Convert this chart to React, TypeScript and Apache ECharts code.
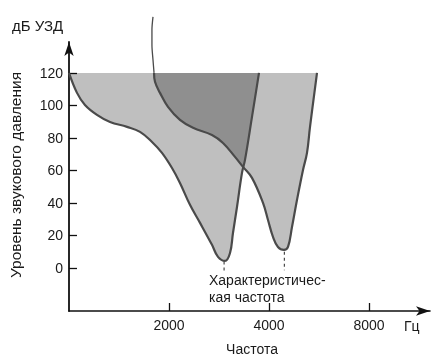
import React, { useEffect, useRef } from "react";
import * as echarts from "echarts";

// Frequency axis (Hz, drawn on a log2 scale starting at 1000 Hz)
const BASE_FREQ = 1000;
const xTickFreqs = [2000, 4000, 8000];
const yTickValues = [0, 20, 40, 60, 80, 100, 120];

// Tuning curve with characteristic frequency ~2.9 kHz
const curveAFreq = [1000, 1057, 1117, 1214, 1329, 1495, 1636, 1778, 1905, 2042, 2158, 2313, 2480, 2694, 2809, 2948, 3053, 3116, 3204, 3317, 3387, 3555, 3732];
const curveADb = [120, 107.7, 100.3, 94.2, 89.8, 86.8, 83.7, 77.5, 70.8, 61.5, 52.3, 38.8, 27.7, 14.2, 6.8, 4.3, 9.2, 21.5, 37.5, 58.5, 66.5, 92.9, 120];

// Tuning curve with characteristic frequency ~4.4 kHz
const curveBTopFreq = [1790, 1777, 1777, 1790, 1803];
const curveBTopDb = [154.5, 146.5, 137.2, 128, 120];
const curveBFreq = [1803, 1815, 1879, 1986, 2158, 2362, 2694, 2908, 3160, 3340, 3555, 3837, 3972, 4112, 4257, 4438, 4563, 4691, 4856, 5063, 5205, 5315, 5579];
const curveBDb = [120, 114.5, 107.7, 99.1, 91.1, 86.2, 81.8, 76.9, 68.3, 62.2, 55.4, 40, 29.5, 19.1, 12.9, 11.1, 12.9, 25.2, 41.8, 60.3, 70.8, 86.8, 120];

// Characteristic-frequency markers (dashed drops below each minimum)
const markerFreqs = [2930, 4450];
const markerTopDb = [4, 10];
const markerBottomDb = [-3, -1.5];

const toX = (f: number) => Math.log2(f / BASE_FREQ);
const pairs = (fs: number[], ds: number[]) => fs.map((f, i) => [toX(f), ds[i]]);

const FONT = 'Arial, "Liberation Sans", sans-serif';
const INK = "#1a1a1a";
const CURVE = "#4a4a4a";

export default function App() {
  const ref = useRef<HTMLDivElement>(null);
  useEffect(() => {
    if (!ref.current) return;
    const chart = echarts.init(ref.current, undefined, { renderer: "svg" });
    const fillStyle = { color: "#000", opacity: 0.25, origin: 120 };
    const markerSeries = markerFreqs.map((f, i) => ({
      type: "line",
      data: [[toX(f), markerTopDb[i]], [toX(f), markerBottomDb[i]]],
      symbol: "none",
      silent: true,
      lineStyle: { color: CURVE, width: 1.2, type: [3, 3] },
      z: 4,
    }));
    chart.setOption({
      animation: false,
      grid: { left: 69, right: 2, top: 42, bottom: 49 },
      xAxis: {
        type: "value",
        min: 0,
        max: 3.61,
        axisLine: {
          show: true,
          onZero: false,
          symbol: ["none", "arrow"],
          symbolSize: [7, 14],
          lineStyle: { color: "#111", width: 1.6 },
        },
        axisTick: {
          show: true,
          inside: true,
          length: 8,
          customValues: xTickFreqs.map(toX),
          lineStyle: { color: "#111", width: 1.3 },
        },
        axisLabel: {
          customValues: xTickFreqs.map(toX),
          formatter: (v: number) => String(Math.round(BASE_FREQ * Math.pow(2, v))),
          color: INK,
          fontSize: 14,
          fontFamily: FONT,
          margin: 7,
        },
        splitLine: { show: false },
      },
      yAxis: {
        type: "value",
        min: -26.5,
        max: 139,
        axisLine: {
          show: true,
          onZero: false,
          symbol: ["none", "arrow"],
          symbolSize: [7, 14],
          lineStyle: { color: "#111", width: 1.8 },
        },
        axisTick: {
          show: true,
          inside: true,
          length: 8,
          customValues: yTickValues,
          lineStyle: { color: "#111", width: 1.3 },
        },
        axisLabel: {
          customValues: yTickValues,
          color: INK,
          fontSize: 14,
          fontFamily: FONT,
          margin: 6,
        },
        splitLine: { show: false },
      },
      graphic: [
        {
          type: "text",
          style: { text: "дБ УЗД", x: 12, y: 25, fill: INK, fontSize: 15, fontFamily: FONT, textVerticalAlign: "middle" },
        },
        {
          type: "text",
          x: 15,
          y: 175,
          rotation: Math.PI / 2,
          style: { text: "Уровень звукового давления", x: 0, y: 0, fill: INK, fontSize: 15.5, fontFamily: FONT, textAlign: "center", textVerticalAlign: "middle" },
        },
        {
          type: "text",
          style: { text: "Частота", x: 252, y: 349, fill: INK, fontSize: 14, fontFamily: FONT, textAlign: "center", textVerticalAlign: "middle" },
        },
        {
          type: "text",
          style: { text: "Гц", x: 404, y: 326, fill: INK, fontSize: 14, fontFamily: FONT, textVerticalAlign: "middle" },
        },
        {
          type: "text",
          style: { text: "Характеристичес-", x: 209, y: 280, fill: INK, fontSize: 14, fontFamily: FONT, textVerticalAlign: "middle" },
        },
        {
          type: "text",
          style: { text: "кая частота", x: 209, y: 297, fill: INK, fontSize: 14, fontFamily: FONT, textVerticalAlign: "middle" },
        },
      ],
      series: [
        {
          type: "line",
          data: pairs(curveAFreq, curveADb),
          smooth: 0.4,
          symbol: "none",
          lineStyle: { color: CURVE, width: 2.2 },
          areaStyle: fillStyle,
          z: 3,
        },
        {
          type: "line",
          data: pairs(curveBFreq, curveBDb),
          smooth: 0.4,
          symbol: "none",
          lineStyle: { color: CURVE, width: 2.2 },
          areaStyle: fillStyle,
          z: 3,
        },
        {
          type: "line",
          data: pairs(curveBTopFreq, curveBTopDb),
          smooth: 0.3,
          symbol: "none",
          clip: false,
          lineStyle: { color: CURVE, width: 1.3 },
          z: 3,
        },
        ...markerSeries,
      ],
    });
    return () => chart.dispose();
  }, []);
  return <div ref={ref} style={{ position: "fixed", left: 0, top: 0, width: 432, height: 360 }} />;
}
